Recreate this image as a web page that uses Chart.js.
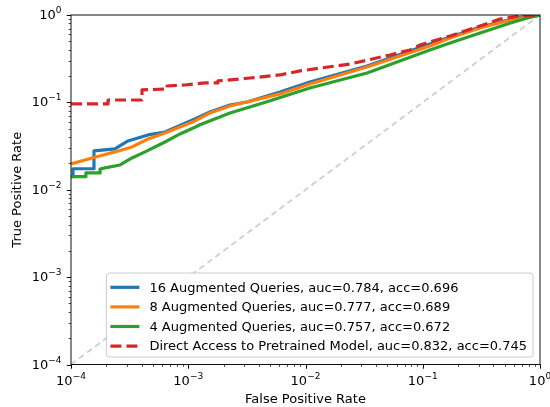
<!DOCTYPE html>
<html lang="en">
<head>
<meta charset="UTF-8">
<title>ROC curves - augmented queries</title>
<script src="https://cdn.jsdelivr.net/npm/chart.js"></script>
<style>
    html, body { margin: 0; padding: 0; background: #fff; }
    canvas { display: block; }
</style>
</head>
<body>
<canvas id="roc" width="550" height="407"></canvas>
<script>
// legend order
const seriesNames = [
    '16 Augmented Queries, auc=0.784, acc=0.696',
    '8 Augmented Queries, auc=0.777, acc=0.689',
    '4 Augmented Queries, auc=0.757, acc=0.672',
    'Direct Access to Pretrained Model, auc=0.832, acc=0.745'
];

// (log-log ROC)
const fpr16 = [1e-4, 1.04e-4, 1.04e-4, 1.57e-4, 1.57e-4, 2.37e-4, 3.06e-4, 4.54e-4, 6.33e-4, 1.14e-3, 1.53e-3, 2.27e-3, 3.17e-3, 6.06e-3, 0.0109, 0.0335, 0.115, 0.171, 0.308, 0.56, 0.782, 1];
const tpr16 = [0.0141, 0.0141, 0.0174, 0.0174, 0.0278, 0.0293, 0.0362, 0.0424, 0.0458, 0.0646, 0.0777, 0.0934, 0.1011, 0.1315, 0.171, 0.261, 0.466, 0.560, 0.729, 0.888, 0.974, 1];

const fpr8 = [1e-4, 1.51e-4, 2.37e-4, 3.31e-4, 4.54e-4, 6.33e-4, 1.14e-3, 1.53e-3, 2.27e-3, 6.06e-3, 0.0109, 0.0335, 0.115, 0.171, 0.308, 0.56, 0.782, 1];
const tpr8 = [0.0197, 0.0231, 0.0271, 0.0309, 0.0381, 0.0447, 0.0613, 0.0756, 0.091, 0.125, 0.162, 0.254, 0.442, 0.546, 0.71, 0.877, 0.949, 1];

const fpr4 = [1e-4, 1.34e-4, 1.34e-4, 1.77e-4, 1.77e-4, 1.95e-4, 2.62e-4, 3.31e-4, 4.28e-4, 6.33e-4, 8.5e-4, 1.14e-3, 1.26e-3, 2.27e-3, 4.34e-3, 0.0109, 0.0335, 0.115, 0.171, 0.308, 0.56, 0.782, 1];
const tpr4 = [0.0141, 0.0141, 0.0156, 0.0156, 0.0173, 0.0178, 0.0192, 0.0231, 0.0271, 0.0352, 0.0435, 0.052, 0.0555, 0.0756, 0.0984, 0.146, 0.217, 0.398, 0.478, 0.622, 0.81, 0.924, 1];

const fprDirect = [1e-4, 2.07e-4, 2.07e-4, 4.03e-4, 4.03e-4, 6.6e-4, 6.6e-4, 9.4e-4, 1.39e-3, 1.79e-3, 1.79e-3, 3.36e-3, 6.06e-3, 8.98e-3, 0.024, 0.0526, 0.0778, 0.0947, 0.171, 0.308, 0.456, 0.675, 1];
const tprDirect = [0.096, 0.096, 0.1065, 0.1065, 0.139, 0.142, 0.154, 0.158, 0.167, 0.167, 0.176, 0.190, 0.206, 0.229, 0.275, 0.349, 0.398, 0.454, 0.575, 0.749, 0.90, 0.974, 1];

// chance line
const chanceFpr = [1e-4, 1];
const chanceTpr = [1e-4, 1];

// major ticks: 10^exp
const tickValues = [1e-4, 1e-3, 1e-2, 1e-1, 1];
const tickExponents = ['\u22124', '\u22123', '\u22122', '\u22121', '0'];

const colors = ['#1f77b4', '#ff7f0e', '#2ca02c', '#d62728'];
const FONT = '"DejaVu Sans"';

function pts(xs, ys) {
    return xs.map((x, i) => ({ x: x, y: ys[i] }));
}

function majorIndex(v) {
    return tickValues.findIndex(t => Math.abs(Math.log10(v) - Math.log10(t)) < 1e-6);
}

// 1..9 x 10^k, like matplotlib's log locator
function setLogTicks(scale) {
    const t = [];
    for (let e = -4; e < 0; e++) {
        for (let m = 1; m < 10; m++) t.push({ value: m * Math.pow(10, e) });
    }
    t.push({ value: 1 });
    scale.ticks = t;
}

// "10" with a raised exponent, like mathtext
function drawPow(ctx, exp, x, y, align) {
    ctx.font = '13px ' + FONT;
    const wb = ctx.measureText('10').width;
    ctx.font = '9px ' + FONT;
    const ws = ctx.measureText(exp).width;
    const x0 = align === 'center' ? x - (wb + ws) / 2 : x - (wb + ws);
    ctx.textAlign = 'left';
    ctx.textBaseline = 'alphabetic';
    ctx.fillStyle = '#000';
    ctx.font = '13px ' + FONT;
    ctx.fillText('10', x0, y);
    ctx.font = '9px ' + FONT;
    ctx.fillText(exp, x0 + wb, y - 6);
}

const line = { showLine: true, pointRadius: 0, borderWidth: 3.2, fill: false, tension: 0, borderJoinStyle: 'round' };

// legend box inside the axes, lower right
const legendBox = {
    id: 'legendBox',
    afterDatasetsDraw(chart) {
        const { ctx, chartArea: a } = chart;
        ctx.save();
        const items = chart.data.datasets.filter(d => d.inLegend !== false);
        ctx.font = '13px ' + FONT;
        const textW = Math.max(...items.map(d => ctx.measureText(d.label).width));
        const rowH = 19.6;
        const w = textW + 49;
        const h = items.length * rowH + 5.6;
        const right = a.right - 7;
        const bottom = a.bottom - 7.5;
        const left = right - w;
        const top = bottom - h;
        ctx.beginPath();
        ctx.roundRect(left, top, w, h, 3);
        ctx.fillStyle = 'rgba(255,255,255,0.8)';
        ctx.fill();
        ctx.lineWidth = 1;
        ctx.strokeStyle = '#cccccc';
        ctx.stroke();
        ctx.textBaseline = 'middle';
        ctx.textAlign = 'left';
        items.forEach((d, i) => {
            const y = top + 14.3 + i * rowH;
            ctx.strokeStyle = d.borderColor;
            ctx.lineWidth = d.borderWidth;
            ctx.setLineDash(d.borderDash || []);
            ctx.beginPath();
            ctx.moveTo(left + 4, y);
            ctx.lineTo(left + 33, y);
            ctx.stroke();
            ctx.setLineDash([]);
            ctx.fillStyle = '#000';
            ctx.fillText(d.label, left + 43, y + 1);
        });
        ctx.restore();
    }
};

// frame, tick marks and tick labels
const axesFrame = {
    id: 'axesFrame',
    afterDraw(chart) {
        const { ctx, chartArea: a } = chart;
        const xs = chart.scales.x, ys = chart.scales.y;
        ctx.save();
        ctx.strokeStyle = '#000';
        xs.ticks.forEach(t => {
            const i = majorIndex(t.value);
            const px = Math.round(xs.getPixelForValue(t.value)) + 0.5;
            ctx.lineWidth = i >= 0 ? 1 : 0.7;
            ctx.beginPath();
            ctx.moveTo(px, a.bottom);
            ctx.lineTo(px, a.bottom + (i >= 0 ? 4.2 : 2.4));
            ctx.stroke();
            if (i >= 0) drawPow(ctx, tickExponents[i], xs.getPixelForValue(t.value), a.bottom + 20, 'center');
        });
        ys.ticks.forEach(t => {
            const i = majorIndex(t.value);
            const py = Math.round(ys.getPixelForValue(t.value)) + 0.5;
            ctx.lineWidth = i >= 0 ? 1 : 0.7;
            ctx.beginPath();
            ctx.moveTo(a.left, py);
            ctx.lineTo(a.left - (i >= 0 ? 4.2 : 2.4), py);
            ctx.stroke();
            if (i >= 0) drawPow(ctx, tickExponents[i], a.left - 9.5, ys.getPixelForValue(t.value) + 4, 'right');
        });
        ctx.lineWidth = 1;
        ctx.strokeStyle = '#111';
        ctx.strokeRect(a.left, a.top, a.right - a.left, a.bottom - a.top);
        ctx.restore();
    }
};

Chart.defaults.font.family = FONT;
Chart.defaults.font.size = 13;
Chart.defaults.color = '#000';

new Chart(document.getElementById('roc'), {
    type: 'scatter',
    data: {
        datasets: [
            Object.assign({}, line, { label: seriesNames[0], data: pts(fpr16, tpr16), borderColor: colors[0], order: 3 }),
            Object.assign({}, line, { label: seriesNames[1], data: pts(fpr8, tpr8), borderColor: colors[1], order: 2 }),
            Object.assign({}, line, { label: seriesNames[2], data: pts(fpr4, tpr4), borderColor: colors[2], order: 1 }),
            Object.assign({}, line, { label: seriesNames[3], data: pts(fprDirect, tprDirect), borderColor: colors[3], borderDash: [11, 5], order: 0 }),
            Object.assign({}, line, { label: 'chance', data: pts(chanceFpr, chanceTpr), borderColor: '#cccccc', borderWidth: 1.7, borderDash: [6, 4], order: 5, inLegend: false })
        ]
    },
    options: {
        responsive: false,
        animation: false,
        events: [],
        layout: { padding: { top: 15, right: 10, left: 0, bottom: 0 } },
        plugins: { legend: { display: false }, tooltip: { enabled: false } },
        scales: {
            x: {
                type: 'logarithmic',
                min: 1e-4,
                max: 1,
                afterBuildTicks: setLogTicks,
                afterFit: s => { s.height = 42.5; },
                grid: { display: false },
                border: { display: false },
                ticks: { display: false, autoSkip: false },
                title: { display: true, text: 'False Positive Rate', padding: { top: 0, bottom: 0 } }
            },
            y: {
                type: 'logarithmic',
                min: 1e-4,
                max: 1,
                afterBuildTicks: setLogTicks,
                afterFit: s => { s.width = 71; },
                grid: { display: false },
                border: { display: false },
                ticks: { display: false, autoSkip: false },
                title: { display: true, text: 'True Positive Rate', padding: { top: 10, bottom: 0 } }
            }
        }
    },
    plugins: [legendBox, axesFrame]
});
</script>
</body>
</html>
